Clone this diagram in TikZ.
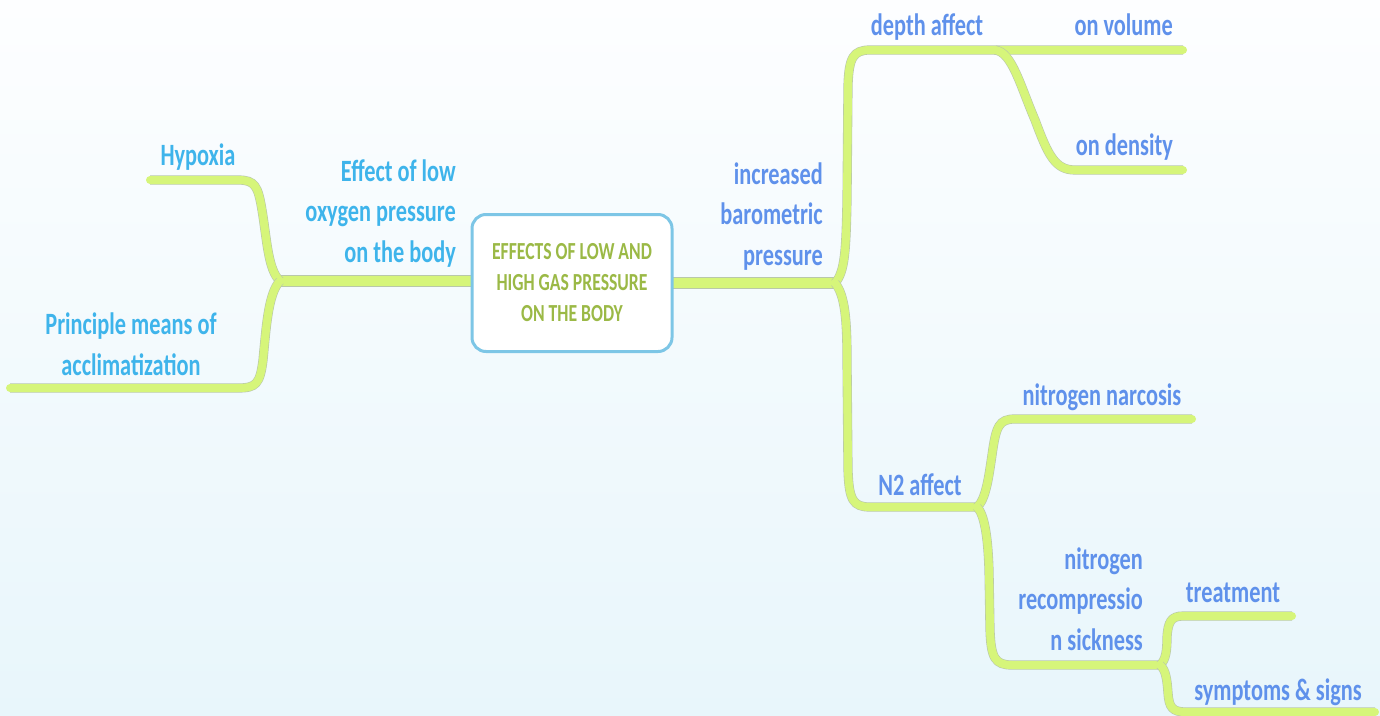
\documentclass[tikz,border=0pt]{standalone}
\usepackage{fontspec}
\newfontfamily\mmfont{Carlito}[FakeStretch=0.72]
\definecolor{leftblue}{RGB}{62,180,235}
\definecolor{rightblue}{RGB}{95,145,235}
\definecolor{olivetxt}{RGB}{155,185,70}
\definecolor{lineg}{RGB}{214,245,122}
\definecolor{lineedge}{RGB}{185,200,170}
\definecolor{boxblue}{RGB}{125,198,230}
\definecolor{bgtop}{RGB}{253,254,255}
\definecolor{bgbot}{RGB}{232,246,251}
\begin{document}
\begin{tikzpicture}[x=1pt,y=-1pt,
  txt/.style={inner sep=0pt, font=\mmfont\bfseries\fontsize{31}{40.5}\selectfont},
  ltxt/.style={txt, text=leftblue},
  rtxt/.style={txt, text=rightblue},
  branch/.style={draw=lineg, line width=8pt, line cap=round, line join=round,
    preaction={draw=lineedge, line width=9.2pt}},
  mainbranch/.style={branch, line width=10pt, preaction={draw=lineedge, line width=11.2pt}},
  centerbox/.style={draw=boxblue, line width=3pt, fill=white, rounded corners=14pt,
    minimum width=200pt, minimum height=137pt, align=center, text=olivetxt,
    font=\mmfont\bfseries\fontsize{24.5}{31}\selectfont}]
\useasboundingbox (0,0) rectangle (1380,715);
\shade[top color=bgtop, bottom color=bgbot] (0,0) rectangle (1380,715);

% junctions and ends
\coordinate (jl) at (280,281);
\coordinate (jr) at (835,283);
\coordinate (jd) at (995,50);
\coordinate (jn) at (977,507);
\coordinate (js) at (1160,665);
\coordinate (hypE) at (150,180);
\coordinate (priE) at (10,388);
\coordinate (volE) at (1183,50);
\coordinate (denE) at (1183,170);
\coordinate (narE) at (1192,419);
\coordinate (treE) at (1292,616);
\coordinate (symE) at (1375,712);

% branches
\draw[mainbranch] (472,281) -- (jl);
\draw[mainbranch] (672,283) -- (jr);
\draw[branch] (jl) .. controls (268,270) and (267,240) .. (262,210)
  .. controls (258,186) and (255,180) .. (238,180) -- (hypE);
\draw[branch] (jl) .. controls (268,293) and (266,330) .. (263,360)
  .. controls (260,384) and (256,388) .. (238,388) -- (priE);
\draw[branch] (jr) .. controls (845,272) and (846,250) .. (847,200) -- (848,85)
  .. controls (849,58) and (853,50) .. (870,50) -- (jd) -- (volE);
\draw[branch] (jd) .. controls (1012,52) and (1020,85) .. (1035,120)
  .. controls (1048,155) and (1055,170) .. (1075,170) -- (denE);
\draw[branch] (jr) .. controls (845,295) and (847,320) .. (847,360) -- (848,470)
  .. controls (849,500) and (853,507) .. (870,507) -- (jn);
\draw[branch] (jn) .. controls (986,500) and (989,475) .. (992,455)
  .. controls (996,426) and (999,419) .. (1015,419) -- (narE);
\draw[branch] (jn) .. controls (985,515) and (988,540) .. (989,570) -- (990,630)
  .. controls (991,658) and (995,665) .. (1012,665) -- (js);
\draw[branch] (js) .. controls (1166,660) and (1167,650) .. (1167,637)
  .. controls (1168,622) and (1171,616) .. (1183,616) -- (treE);
\draw[branch] (js) .. controls (1166,670) and (1167,680) .. (1168,693)
  .. controls (1169,707) and (1172,712) .. (1186,712) -- (symE);

% central box
\node[centerbox] (center) at (572,283) {EFFECTS OF LOW AND\\HIGH GAS PRESSURE\\ON THE BODY};

% texts (multi-line nodes: base = last line)
\node[ltxt, anchor=base] (hypoxia) at (198,165) {Hypoxia};
\node[ltxt, anchor=base east, align=right] (lowO2) at (456,262) {Effect of low\\oxygen pressure\\on the body};
\node[ltxt, anchor=base, align=center] (principle) at (131,375) {Principle means of\\acclimatization};
\node[rtxt, anchor=base east, align=right] (incP) at (823,265) {increased\\barometric\\pressure};
\node[rtxt, anchor=base] (depth) at (927,35) {depth affect};
\node[rtxt, anchor=base east] (vol) at (1173,35) {on volume};
\node[rtxt, anchor=base east] (dens) at (1173,155) {on density};
\node[rtxt, anchor=base] (n2) at (920,495) {N2 affect};
\node[rtxt, anchor=base] (narc) at (1102,405) {nitrogen narcosis};
\node[rtxt, anchor=base east, align=right] (decomp) at (1143,650) {nitrogen\\recompressio\\n sickness};
\node[rtxt, anchor=base] (treat) at (1233,602) {treatment};
\node[rtxt, anchor=base] (symp) at (1278,700) {symptoms \& signs};
\end{tikzpicture}
\end{document}
